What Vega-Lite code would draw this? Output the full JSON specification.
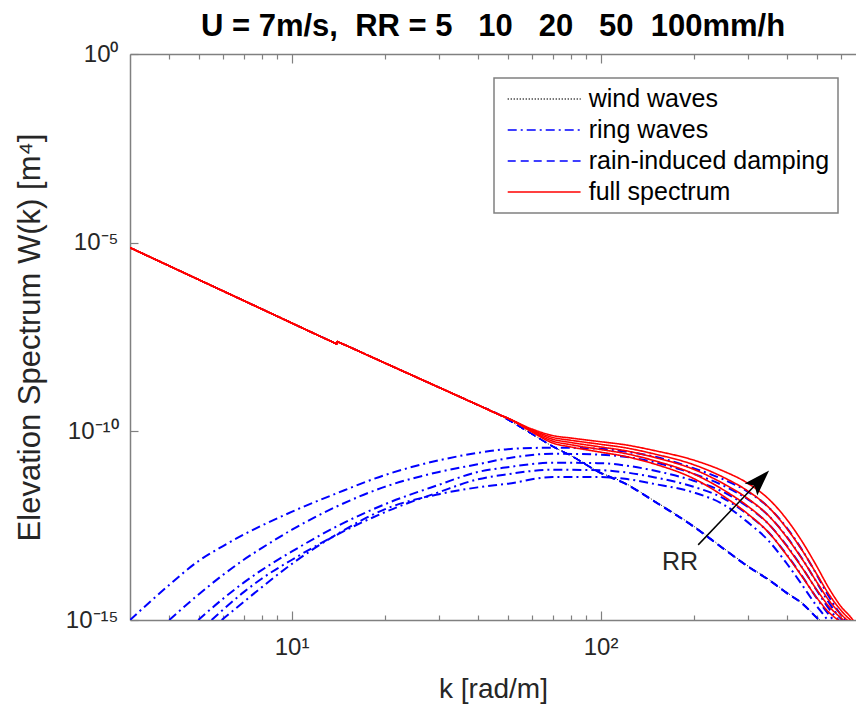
{
  "$schema": "https://vega.github.io/schema/vega-lite/v6.json",
  "autosize": {"type": "none"},
  "padding": {"left": 130, "top": 54, "right": 0, "bottom": 90},
  "width": 726,
  "height": 566,
  "background": "white",
  "title": {
    "text": "U = 7m/s,\u00a0 RR = 5\u00a0\u00a0 10\u00a0\u00a0 20\u00a0\u00a0 50\u00a0 100mm/h",
    "font": "Liberation Sans",
    "fontSize": 31,
    "fontWeight": "bold",
    "color": "#000000",
    "anchor": "middle",
    "offset": -1
  },
  "config": {
    "view": {"stroke": null},
    "axis": {
      "grid": false,
      "domainColor": "#808080",
      "domainWidth": 1.5,
      "tickColor": "#808080",
      "tickWidth": 1.2,
      "labelColor": "#262626",
      "titleColor": "#262626",
      "labelFont": "Liberation Sans",
      "titleFont": "Liberation Sans",
      "titleFontWeight": "normal",
      "labelFontSize": 24,
      "titleFontSize": 28
    },
    "legend": {
      "orient": "none",
      "legendX": 364,
      "legendY": 24,
      "title": null,
      "symbolType": "M-0.6,0H5.4",
      "symbolSize": 590,
      "symbolStrokeWidth": 1.5,
      "labelFont": "Liberation Sans",
      "labelFontSize": 25,
      "labelColor": "#000000",
      "labelOffset": 60.7,
      "labelLimit": 500,
      "rowPadding": 5,
      "padding": 8,
      "strokeColor": "#808080",
      "strokeWidth": 1.5,
      "fillColor": "#ffffff"
    }
  },
  "datasets": {
    "curves": [
      {"s":"w","t":"wind waves","k":3,"W":7.38e-6},
      {"s":"w","t":"wind waves","k":5,"W":1.05e-6},
      {"s":"w","t":"wind waves","k":8,"W":1.75e-7},
      {"s":"w","t":"wind waves","k":12,"W":3.71e-8},
      {"s":"w","t":"wind waves","k":13.9,"W":2.12e-8},
      {"s":"w","t":"wind waves","k":14,"W":2.06e-8},
      {"s":"w","t":"wind waves","k":14.05,"W":2.40e-8},
      {"s":"w","t":"wind waves","k":14.2,"W":2.31e-8},
      {"s":"w","t":"wind waves","k":20,"W":6.52e-9},
      {"s":"w","t":"wind waves","k":30,"W":1.46e-9},
      {"s":"w","t":"wind waves","k":40,"W":5.04e-10},
      {"s":"w","t":"wind waves","k":47,"W":2.77e-10},
      {"s":"w","t":"wind waves","k":50,"W":2.06e-10},
      {"s":"w","t":"wind waves","k":60,"W":8.5e-11},
      {"s":"w","t":"wind waves","k":70,"W":3.98e-11},
      {"s":"w","t":"wind waves","k":80,"W":2.29e-11},
      {"s":"w","t":"wind waves","k":100,"W":8.13e-12},
      {"s":"w","t":"wind waves","k":120,"W":4.27e-12},
      {"s":"w","t":"wind waves","k":150,"W":1.40e-12},
      {"s":"w","t":"wind waves","k":200,"W":3.1e-13},
      {"s":"w","t":"wind waves","k":250,"W":8.0e-14},
      {"s":"w","t":"wind waves","k":300,"W":2.7e-14},
      {"s":"w","t":"wind waves","k":350,"W":1.2e-14},
      {"s":"w","t":"wind waves","k":400,"W":5.4e-15},
      {"s":"w","t":"wind waves","k":450,"W":2.8e-15},
      {"s":"w","t":"wind waves","k":500,"W":1.2e-15},
      {"s":"w","t":"wind waves","k":530,"W":7.9e-16},

      {"s":"d5","t":"rain-induced damping","k":3,"W":7.38e-6},
      {"s":"d5","t":"rain-induced damping","k":5,"W":1.05e-6},
      {"s":"d5","t":"rain-induced damping","k":8,"W":1.75e-7},
      {"s":"d5","t":"rain-induced damping","k":12,"W":3.71e-8},
      {"s":"d5","t":"rain-induced damping","k":13.9,"W":2.12e-8},
      {"s":"d5","t":"rain-induced damping","k":14,"W":2.06e-8},
      {"s":"d5","t":"rain-induced damping","k":14.05,"W":2.40e-8},
      {"s":"d5","t":"rain-induced damping","k":14.2,"W":2.31e-8},
      {"s":"d5","t":"rain-induced damping","k":20,"W":6.52e-9},
      {"s":"d5","t":"rain-induced damping","k":30,"W":1.46e-9},
      {"s":"d5","t":"rain-induced damping","k":40,"W":5.04e-10},
      {"s":"d5","t":"rain-induced damping","k":47,"W":2.77e-10},
      {"s":"d5","t":"rain-induced damping","k":50,"W":2.06e-10},
      {"s":"d5","t":"rain-induced damping","k":60,"W":8.5e-11},
      {"s":"d5","t":"rain-induced damping","k":70,"W":3.98e-11},
      {"s":"d5","t":"rain-induced damping","k":80,"W":2.29e-11},
      {"s":"d5","t":"rain-induced damping","k":100,"W":8.13e-12},
      {"s":"d5","t":"rain-induced damping","k":120,"W":4.27e-12},
      {"s":"d5","t":"rain-induced damping","k":150,"W":1.40e-12},
      {"s":"d5","t":"rain-induced damping","k":200,"W":3.1e-13},
      {"s":"d5","t":"rain-induced damping","k":250,"W":8.0e-14},
      {"s":"d5","t":"rain-induced damping","k":300,"W":2.7e-14},
      {"s":"d5","t":"rain-induced damping","k":350,"W":1.2e-14},
      {"s":"d5","t":"rain-induced damping","k":400,"W":5.4e-15},
      {"s":"d5","t":"rain-induced damping","k":450,"W":2.8e-15},
      {"s":"d5","t":"rain-induced damping","k":500,"W":1.2e-15},
      {"s":"d5","t":"rain-induced damping","k":530,"W":7.9e-16},

      {"s":"d10","t":"rain-induced damping","k":3,"W":7.38e-6},
      {"s":"d10","t":"rain-induced damping","k":5,"W":1.05e-6},
      {"s":"d10","t":"rain-induced damping","k":8,"W":1.75e-7},
      {"s":"d10","t":"rain-induced damping","k":12,"W":3.71e-8},
      {"s":"d10","t":"rain-induced damping","k":13.9,"W":2.12e-8},
      {"s":"d10","t":"rain-induced damping","k":14,"W":2.06e-8},
      {"s":"d10","t":"rain-induced damping","k":14.05,"W":2.40e-8},
      {"s":"d10","t":"rain-induced damping","k":14.2,"W":2.31e-8},
      {"s":"d10","t":"rain-induced damping","k":20,"W":6.52e-9},
      {"s":"d10","t":"rain-induced damping","k":30,"W":1.46e-9},
      {"s":"d10","t":"rain-induced damping","k":40,"W":5.04e-10},
      {"s":"d10","t":"rain-induced damping","k":47,"W":2.77e-10},
      {"s":"d10","t":"rain-induced damping","k":50,"W":2.06e-10},
      {"s":"d10","t":"rain-induced damping","k":60,"W":8.5e-11},
      {"s":"d10","t":"rain-induced damping","k":70,"W":3.98e-11},
      {"s":"d10","t":"rain-induced damping","k":80,"W":2.29e-11},
      {"s":"d10","t":"rain-induced damping","k":100,"W":8.0e-12},
      {"s":"d10","t":"rain-induced damping","k":120,"W":4.2e-12},
      {"s":"d10","t":"rain-induced damping","k":150,"W":1.38e-12},
      {"s":"d10","t":"rain-induced damping","k":200,"W":3.05e-13},
      {"s":"d10","t":"rain-induced damping","k":250,"W":7.88e-14},
      {"s":"d10","t":"rain-induced damping","k":300,"W":2.66e-14},
      {"s":"d10","t":"rain-induced damping","k":350,"W":1.18e-14},
      {"s":"d10","t":"rain-induced damping","k":400,"W":5.32e-15},
      {"s":"d10","t":"rain-induced damping","k":450,"W":2.76e-15},
      {"s":"d10","t":"rain-induced damping","k":500,"W":1.18e-15},
      {"s":"d10","t":"rain-induced damping","k":530,"W":7.8e-16},

      {"s":"d20","t":"rain-induced damping","k":3,"W":7.38e-6},
      {"s":"d20","t":"rain-induced damping","k":5,"W":1.05e-6},
      {"s":"d20","t":"rain-induced damping","k":8,"W":1.75e-7},
      {"s":"d20","t":"rain-induced damping","k":12,"W":3.71e-8},
      {"s":"d20","t":"rain-induced damping","k":13.9,"W":2.12e-8},
      {"s":"d20","t":"rain-induced damping","k":14,"W":2.06e-8},
      {"s":"d20","t":"rain-induced damping","k":14.05,"W":2.40e-8},
      {"s":"d20","t":"rain-induced damping","k":14.2,"W":2.31e-8},
      {"s":"d20","t":"rain-induced damping","k":20,"W":6.52e-9},
      {"s":"d20","t":"rain-induced damping","k":30,"W":1.46e-9},
      {"s":"d20","t":"rain-induced damping","k":40,"W":5.04e-10},
      {"s":"d20","t":"rain-induced damping","k":47,"W":2.77e-10},
      {"s":"d20","t":"rain-induced damping","k":50,"W":2.06e-10},
      {"s":"d20","t":"rain-induced damping","k":60,"W":8.5e-11},
      {"s":"d20","t":"rain-induced damping","k":70,"W":3.98e-11},
      {"s":"d20","t":"rain-induced damping","k":80,"W":2.29e-11},
      {"s":"d20","t":"rain-induced damping","k":100,"W":7.9e-12},
      {"s":"d20","t":"rain-induced damping","k":120,"W":4.14e-12},
      {"s":"d20","t":"rain-induced damping","k":150,"W":1.36e-12},
      {"s":"d20","t":"rain-induced damping","k":200,"W":3.01e-13},
      {"s":"d20","t":"rain-induced damping","k":250,"W":7.76e-14},
      {"s":"d20","t":"rain-induced damping","k":300,"W":2.62e-14},
      {"s":"d20","t":"rain-induced damping","k":350,"W":1.16e-14},
      {"s":"d20","t":"rain-induced damping","k":400,"W":5.24e-15},
      {"s":"d20","t":"rain-induced damping","k":450,"W":2.72e-15},
      {"s":"d20","t":"rain-induced damping","k":500,"W":1.16e-15},
      {"s":"d20","t":"rain-induced damping","k":530,"W":7.7e-16},

      {"s":"d50","t":"rain-induced damping","k":3,"W":7.38e-6},
      {"s":"d50","t":"rain-induced damping","k":5,"W":1.05e-6},
      {"s":"d50","t":"rain-induced damping","k":8,"W":1.75e-7},
      {"s":"d50","t":"rain-induced damping","k":12,"W":3.71e-8},
      {"s":"d50","t":"rain-induced damping","k":13.9,"W":2.12e-8},
      {"s":"d50","t":"rain-induced damping","k":14,"W":2.06e-8},
      {"s":"d50","t":"rain-induced damping","k":14.05,"W":2.40e-8},
      {"s":"d50","t":"rain-induced damping","k":14.2,"W":2.31e-8},
      {"s":"d50","t":"rain-induced damping","k":20,"W":6.52e-9},
      {"s":"d50","t":"rain-induced damping","k":30,"W":1.46e-9},
      {"s":"d50","t":"rain-induced damping","k":40,"W":5.04e-10},
      {"s":"d50","t":"rain-induced damping","k":47,"W":2.77e-10},
      {"s":"d50","t":"rain-induced damping","k":50,"W":2.06e-10},
      {"s":"d50","t":"rain-induced damping","k":60,"W":8.5e-11},
      {"s":"d50","t":"rain-induced damping","k":70,"W":3.98e-11},
      {"s":"d50","t":"rain-induced damping","k":80,"W":2.29e-11},
      {"s":"d50","t":"rain-induced damping","k":100,"W":7.8e-12},
      {"s":"d50","t":"rain-induced damping","k":120,"W":4.08e-12},
      {"s":"d50","t":"rain-induced damping","k":150,"W":1.34e-12},
      {"s":"d50","t":"rain-induced damping","k":200,"W":2.96e-13},
      {"s":"d50","t":"rain-induced damping","k":250,"W":7.64e-14},
      {"s":"d50","t":"rain-induced damping","k":300,"W":2.58e-14},
      {"s":"d50","t":"rain-induced damping","k":350,"W":1.15e-14},
      {"s":"d50","t":"rain-induced damping","k":400,"W":5.16e-15},
      {"s":"d50","t":"rain-induced damping","k":450,"W":2.67e-15},
      {"s":"d50","t":"rain-induced damping","k":500,"W":1.15e-15},
      {"s":"d50","t":"rain-induced damping","k":530,"W":7.6e-16},

      {"s":"d100","t":"rain-induced damping","k":3,"W":7.38e-6},
      {"s":"d100","t":"rain-induced damping","k":5,"W":1.05e-6},
      {"s":"d100","t":"rain-induced damping","k":8,"W":1.75e-7},
      {"s":"d100","t":"rain-induced damping","k":12,"W":3.71e-8},
      {"s":"d100","t":"rain-induced damping","k":13.9,"W":2.12e-8},
      {"s":"d100","t":"rain-induced damping","k":14,"W":2.06e-8},
      {"s":"d100","t":"rain-induced damping","k":14.05,"W":2.40e-8},
      {"s":"d100","t":"rain-induced damping","k":14.2,"W":2.31e-8},
      {"s":"d100","t":"rain-induced damping","k":20,"W":6.52e-9},
      {"s":"d100","t":"rain-induced damping","k":30,"W":1.46e-9},
      {"s":"d100","t":"rain-induced damping","k":40,"W":5.04e-10},
      {"s":"d100","t":"rain-induced damping","k":47,"W":2.77e-10},
      {"s":"d100","t":"rain-induced damping","k":50,"W":2.06e-10},
      {"s":"d100","t":"rain-induced damping","k":60,"W":8.5e-11},
      {"s":"d100","t":"rain-induced damping","k":70,"W":3.98e-11},
      {"s":"d100","t":"rain-induced damping","k":80,"W":2.29e-11},
      {"s":"d100","t":"rain-induced damping","k":100,"W":7.7e-12},
      {"s":"d100","t":"rain-induced damping","k":120,"W":4.02e-12},
      {"s":"d100","t":"rain-induced damping","k":150,"W":1.32e-12},
      {"s":"d100","t":"rain-induced damping","k":200,"W":2.91e-13},
      {"s":"d100","t":"rain-induced damping","k":250,"W":7.52e-14},
      {"s":"d100","t":"rain-induced damping","k":300,"W":2.54e-14},
      {"s":"d100","t":"rain-induced damping","k":350,"W":1.13e-14},
      {"s":"d100","t":"rain-induced damping","k":400,"W":5.08e-15},
      {"s":"d100","t":"rain-induced damping","k":450,"W":2.63e-15},
      {"s":"d100","t":"rain-induced damping","k":500,"W":1.13e-15},
      {"s":"d100","t":"rain-induced damping","k":530,"W":7.5e-16},

      {"s":"g100","t":"ring waves","k":3,"W":1.0e-15},
      {"s":"g100","t":"ring waves","k":3.5,"W":3.15e-15},
      {"s":"g100","t":"ring waves","k":4,"W":8.24e-15},
      {"s":"g100","t":"ring waves","k":5,"W":3.66e-14},
      {"s":"g100","t":"ring waves","k":6,"W":9.10e-14},
      {"s":"g100","t":"ring waves","k":7,"W":1.83e-13},
      {"s":"g100","t":"ring waves","k":8,"W":3.17e-13},
      {"s":"g100","t":"ring waves","k":10,"W":7.33e-13},
      {"s":"g100","t":"ring waves","k":14,"W":2.28e-12},
      {"s":"g100","t":"ring waves","k":20,"W":6.90e-12},
      {"s":"g100","t":"ring waves","k":30,"W":1.71e-11},
      {"s":"g100","t":"ring waves","k":40,"W":2.68e-11},
      {"s":"g100","t":"ring waves","k":50,"W":3.37e-11},
      {"s":"g100","t":"ring waves","k":70,"W":3.69e-11},
      {"s":"g100","t":"ring waves","k":100,"W":3.47e-11},
      {"s":"g100","t":"ring waves","k":120,"W":2.90e-11},
      {"s":"g100","t":"ring waves","k":150,"W":2.12e-11},
      {"s":"g100","t":"ring waves","k":200,"W":1.05e-11},
      {"s":"g100","t":"ring waves","k":250,"W":5.30e-12},
      {"s":"g100","t":"ring waves","k":300,"W":2.50e-12},
      {"s":"g100","t":"ring waves","k":350,"W":9.66e-13},
      {"s":"g100","t":"ring waves","k":400,"W":2.81e-13},
      {"s":"g100","t":"ring waves","k":450,"W":7.02e-14},
      {"s":"g100","t":"ring waves","k":500,"W":1.63e-14},
      {"s":"g100","t":"ring waves","k":550,"W":4.0e-15},
      {"s":"g100","t":"ring waves","k":600,"W":1.37e-15},
      {"s":"g100","t":"ring waves","k":640,"W":7.9e-16},

      {"s":"g50","t":"ring waves","k":4.02,"W":1.0e-15},
      {"s":"g50","t":"ring waves","k":5,"W":4.75e-15},
      {"s":"g50","t":"ring waves","k":6,"W":1.57e-14},
      {"s":"g50","t":"ring waves","k":7,"W":3.94e-14},
      {"s":"g50","t":"ring waves","k":8,"W":8.02e-14},
      {"s":"g50","t":"ring waves","k":10,"W":2.44e-13},
      {"s":"g50","t":"ring waves","k":14,"W":1.02e-12},
      {"s":"g50","t":"ring waves","k":20,"W":3.37e-12},
      {"s":"g50","t":"ring waves","k":30,"W":8.39e-12},
      {"s":"g50","t":"ring waves","k":40,"W":1.34e-11},
      {"s":"g50","t":"ring waves","k":50,"W":1.93e-11},
      {"s":"g50","t":"ring waves","k":70,"W":2.55e-11},
      {"s":"g50","t":"ring waves","k":100,"W":2.40e-11},
      {"s":"g50","t":"ring waves","k":120,"W":2.12e-11},
      {"s":"g50","t":"ring waves","k":150,"W":1.50e-11},
      {"s":"g50","t":"ring waves","k":200,"W":7.5e-12},
      {"s":"g50","t":"ring waves","k":250,"W":3.62e-12},
      {"s":"g50","t":"ring waves","k":300,"W":1.57e-12},
      {"s":"g50","t":"ring waves","k":350,"W":5.80e-13},
      {"s":"g50","t":"ring waves","k":400,"W":1.63e-13},
      {"s":"g50","t":"ring waves","k":450,"W":4.12e-14},
      {"s":"g50","t":"ring waves","k":500,"W":1.01e-14},
      {"s":"g50","t":"ring waves","k":550,"W":2.78e-15},
      {"s":"g50","t":"ring waves","k":600,"W":1.08e-15},
      {"s":"g50","t":"ring waves","k":630,"W":7.9e-16},

      {"s":"g20","t":"ring waves","k":4.99,"W":1.0e-15},
      {"s":"g20","t":"ring waves","k":6,"W":3.66e-15},
      {"s":"g20","t":"ring waves","k":7,"W":9.77e-15},
      {"s":"g20","t":"ring waves","k":8,"W":2.10e-14},
      {"s":"g20","t":"ring waves","k":10,"W":6.47e-14},
      {"s":"g20","t":"ring waves","k":14,"W":3.02e-13},
      {"s":"g20","t":"ring waves","k":20,"W":1.16e-12},
      {"s":"g20","t":"ring waves","k":30,"W":3.84e-12},
      {"s":"g20","t":"ring waves","k":40,"W":8.34e-12},
      {"s":"g20","t":"ring waves","k":50,"W":1.12e-11},
      {"s":"g20","t":"ring waves","k":70,"W":1.47e-11},
      {"s":"g20","t":"ring waves","k":100,"W":1.43e-11},
      {"s":"g20","t":"ring waves","k":120,"W":1.25e-11},
      {"s":"g20","t":"ring waves","k":150,"W":9.0e-12},
      {"s":"g20","t":"ring waves","k":200,"W":4.9e-12},
      {"s":"g20","t":"ring waves","k":250,"W":2.46e-12},
      {"s":"g20","t":"ring waves","k":300,"W":9.84e-13},
      {"s":"g20","t":"ring waves","k":350,"W":3.47e-13},
      {"s":"g20","t":"ring waves","k":400,"W":9.48e-14},
      {"s":"g20","t":"ring waves","k":450,"W":2.41e-14},
      {"s":"g20","t":"ring waves","k":500,"W":6.24e-15},
      {"s":"g20","t":"ring waves","k":550,"W":1.93e-15},
      {"s":"g20","t":"ring waves","k":600,"W":8.5e-16},

      {"s":"g10","t":"ring waves","k":5.51,"W":1.0e-15},
      {"s":"g10","t":"ring waves","k":6,"W":1.87e-15},
      {"s":"g10","t":"ring waves","k":7,"W":5.47e-15},
      {"s":"g10","t":"ring waves","k":8,"W":1.24e-14},
      {"s":"g10","t":"ring waves","k":10,"W":3.89e-14},
      {"s":"g10","t":"ring waves","k":14,"W":1.81e-13},
      {"s":"g10","t":"ring waves","k":20,"W":7.14e-13},
      {"s":"g10","t":"ring waves","k":30,"W":2.45e-12},
      {"s":"g10","t":"ring waves","k":40,"W":5.33e-12},
      {"s":"g10","t":"ring waves","k":50,"W":7.29e-12},
      {"s":"g10","t":"ring waves","k":70,"W":9.62e-12},
      {"s":"g10","t":"ring waves","k":100,"W":9.31e-12},
      {"s":"g10","t":"ring waves","k":120,"W":8.20e-12},
      {"s":"g10","t":"ring waves","k":150,"W":6.0e-12},
      {"s":"g10","t":"ring waves","k":200,"W":3.4e-12},
      {"s":"g10","t":"ring waves","k":250,"W":1.68e-12},
      {"s":"g10","t":"ring waves","k":300,"W":6.18e-13},
      {"s":"g10","t":"ring waves","k":350,"W":2.09e-13},
      {"s":"g10","t":"ring waves","k":400,"W":5.48e-14},
      {"s":"g10","t":"ring waves","k":450,"W":1.42e-14},
      {"s":"g10","t":"ring waves","k":500,"W":3.86e-15},
      {"s":"g10","t":"ring waves","k":550,"W":1.34e-15},
      {"s":"g10","t":"ring waves","k":580,"W":8.0e-16},

      {"s":"g5","t":"ring waves","k":5.94,"W":1.0e-15},
      {"s":"g5","t":"ring waves","k":7,"W":3.02e-15},
      {"s":"g5","t":"ring waves","k":8,"W":7.33e-15},
      {"s":"g5","t":"ring waves","k":10,"W":3.03e-14},
      {"s":"g5","t":"ring waves","k":14,"W":1.85e-13},
      {"s":"g5","t":"ring waves","k":20,"W":8.57e-13},
      {"s":"g5","t":"ring waves","k":30,"W":2.16e-12},
      {"s":"g5","t":"ring waves","k":40,"W":3.27e-12},
      {"s":"g5","t":"ring waves","k":50,"W":4.08e-12},
      {"s":"g5","t":"ring waves","k":70,"W":6.15e-12},
      {"s":"g5","t":"ring waves","k":100,"W":6.15e-12},
      {"s":"g5","t":"ring waves","k":120,"W":5.50e-12},
      {"s":"g5","t":"ring waves","k":150,"W":4.0e-12},
      {"s":"g5","t":"ring waves","k":200,"W":2.4e-12},
      {"s":"g5","t":"ring waves","k":250,"W":1.15e-12},
      {"s":"g5","t":"ring waves","k":300,"W":3.86e-13},
      {"s":"g5","t":"ring waves","k":350,"W":1.25e-13},
      {"s":"g5","t":"ring waves","k":400,"W":3.19e-14},
      {"s":"g5","t":"ring waves","k":450,"W":8.28e-15},
      {"s":"g5","t":"ring waves","k":500,"W":2.38e-15},
      {"s":"g5","t":"ring waves","k":530,"W":1.3e-15},
      {"s":"g5","t":"ring waves","k":560,"W":7.0e-16},

      {"s":"f5","t":"full spectrum","k":3,"W":7.38e-6},
      {"s":"f5","t":"full spectrum","k":5,"W":1.05e-6},
      {"s":"f5","t":"full spectrum","k":8,"W":1.75e-7},
      {"s":"f5","t":"full spectrum","k":12,"W":3.71e-8},
      {"s":"f5","t":"full spectrum","k":13.9,"W":2.12e-8},
      {"s":"f5","t":"full spectrum","k":14,"W":2.06e-8},
      {"s":"f5","t":"full spectrum","k":14.05,"W":2.40e-8},
      {"s":"f5","t":"full spectrum","k":14.2,"W":2.31e-8},
      {"s":"f5","t":"full spectrum","k":20,"W":6.52e-9},
      {"s":"f5","t":"full spectrum","k":30,"W":1.46e-9},
      {"s":"f5","t":"full spectrum","k":40,"W":5.04e-10},
      {"s":"f5","t":"full spectrum","k":47,"W":2.77e-10},
      {"s":"f5","t":"full spectrum","k":50,"W":2.24e-10},
      {"s":"f5","t":"full spectrum","k":60,"W":9.6e-11},
      {"s":"f5","t":"full spectrum","k":70,"W":4.91e-11},
      {"s":"f5","t":"full spectrum","k":80,"W":3.86e-11},
      {"s":"f5","t":"full spectrum","k":100,"W":2.81e-11},
      {"s":"f5","t":"full spectrum","k":120,"W":2.17e-11},
      {"s":"f5","t":"full spectrum","k":150,"W":1.35e-11},
      {"s":"f5","t":"full spectrum","k":200,"W":5.62e-12},
      {"s":"f5","t":"full spectrum","k":250,"W":1.91e-12},
      {"s":"f5","t":"full spectrum","k":300,"W":6.44e-13},
      {"s":"f5","t":"full spectrum","k":350,"W":2.08e-13},
      {"s":"f5","t":"full spectrum","k":400,"W":5.31e-14},
      {"s":"f5","t":"full spectrum","k":450,"W":1.38e-14},
      {"s":"f5","t":"full spectrum","k":500,"W":3.97e-15},
      {"s":"f5","t":"full spectrum","k":550,"W":1.56e-15},
      {"s":"f5","t":"full spectrum","k":600,"W":8.9e-16},

      {"s":"f10","t":"full spectrum","k":3,"W":7.38e-6},
      {"s":"f10","t":"full spectrum","k":5,"W":1.05e-6},
      {"s":"f10","t":"full spectrum","k":8,"W":1.75e-7},
      {"s":"f10","t":"full spectrum","k":12,"W":3.71e-8},
      {"s":"f10","t":"full spectrum","k":13.9,"W":2.12e-8},
      {"s":"f10","t":"full spectrum","k":14,"W":2.06e-8},
      {"s":"f10","t":"full spectrum","k":14.05,"W":2.40e-8},
      {"s":"f10","t":"full spectrum","k":14.2,"W":2.31e-8},
      {"s":"f10","t":"full spectrum","k":20,"W":6.52e-9},
      {"s":"f10","t":"full spectrum","k":30,"W":1.46e-9},
      {"s":"f10","t":"full spectrum","k":40,"W":5.04e-10},
      {"s":"f10","t":"full spectrum","k":47,"W":2.77e-10},
      {"s":"f10","t":"full spectrum","k":50,"W":2.24e-10},
      {"s":"f10","t":"full spectrum","k":60,"W":1.00e-10},
      {"s":"f10","t":"full spectrum","k":70,"W":5.50e-11},
      {"s":"f10","t":"full spectrum","k":80,"W":4.43e-11},
      {"s":"f10","t":"full spectrum","k":100,"W":3.30e-11},
      {"s":"f10","t":"full spectrum","k":120,"W":2.59e-11},
      {"s":"f10","t":"full spectrum","k":150,"W":1.65e-11},
      {"s":"f10","t":"full spectrum","k":200,"W":7.45e-12},
      {"s":"f10","t":"full spectrum","k":250,"W":2.80e-12},
      {"s":"f10","t":"full spectrum","k":300,"W":1.03e-12},
      {"s":"f10","t":"full spectrum","k":350,"W":3.48e-13},
      {"s":"f10","t":"full spectrum","k":400,"W":9.14e-14},
      {"s":"f10","t":"full spectrum","k":450,"W":2.36e-14},
      {"s":"f10","t":"full spectrum","k":500,"W":6.43e-15},
      {"s":"f10","t":"full spectrum","k":550,"W":2.24e-15},
      {"s":"f10","t":"full spectrum","k":600,"W":1.13e-15},
      {"s":"f10","t":"full spectrum","k":650,"W":6.3e-16},

      {"s":"f20","t":"full spectrum","k":3,"W":7.38e-6},
      {"s":"f20","t":"full spectrum","k":5,"W":1.05e-6},
      {"s":"f20","t":"full spectrum","k":8,"W":1.75e-7},
      {"s":"f20","t":"full spectrum","k":12,"W":3.71e-8},
      {"s":"f20","t":"full spectrum","k":13.9,"W":2.12e-8},
      {"s":"f20","t":"full spectrum","k":14,"W":2.06e-8},
      {"s":"f20","t":"full spectrum","k":14.05,"W":2.40e-8},
      {"s":"f20","t":"full spectrum","k":14.2,"W":2.31e-8},
      {"s":"f20","t":"full spectrum","k":20,"W":6.52e-9},
      {"s":"f20","t":"full spectrum","k":30,"W":1.46e-9},
      {"s":"f20","t":"full spectrum","k":40,"W":5.04e-10},
      {"s":"f20","t":"full spectrum","k":47,"W":2.77e-10},
      {"s":"f20","t":"full spectrum","k":50,"W":2.24e-10},
      {"s":"f20","t":"full spectrum","k":60,"W":1.05e-10},
      {"s":"f20","t":"full spectrum","k":70,"W":6.17e-11},
      {"s":"f20","t":"full spectrum","k":80,"W":5.07e-11},
      {"s":"f20","t":"full spectrum","k":100,"W":3.86e-11},
      {"s":"f20","t":"full spectrum","k":120,"W":3.08e-11},
      {"s":"f20","t":"full spectrum","k":150,"W":2.03e-11},
      {"s":"f20","t":"full spectrum","k":200,"W":9.86e-12},
      {"s":"f20","t":"full spectrum","k":250,"W":4.10e-12},
      {"s":"f20","t":"full spectrum","k":300,"W":1.64e-12},
      {"s":"f20","t":"full spectrum","k":350,"W":5.79e-13},
      {"s":"f20","t":"full spectrum","k":400,"W":1.58e-13},
      {"s":"f20","t":"full spectrum","k":450,"W":4.02e-14},
      {"s":"f20","t":"full spectrum","k":500,"W":1.04e-14},
      {"s":"f20","t":"full spectrum","k":550,"W":3.22e-15},
      {"s":"f20","t":"full spectrum","k":600,"W":1.42e-15},
      {"s":"f20","t":"full spectrum","k":650,"W":7.9e-16},

      {"s":"f50","t":"full spectrum","k":3,"W":7.38e-6},
      {"s":"f50","t":"full spectrum","k":5,"W":1.05e-6},
      {"s":"f50","t":"full spectrum","k":8,"W":1.75e-7},
      {"s":"f50","t":"full spectrum","k":12,"W":3.71e-8},
      {"s":"f50","t":"full spectrum","k":13.9,"W":2.12e-8},
      {"s":"f50","t":"full spectrum","k":14,"W":2.06e-8},
      {"s":"f50","t":"full spectrum","k":14.05,"W":2.40e-8},
      {"s":"f50","t":"full spectrum","k":14.2,"W":2.31e-8},
      {"s":"f50","t":"full spectrum","k":20,"W":6.52e-9},
      {"s":"f50","t":"full spectrum","k":30,"W":1.46e-9},
      {"s":"f50","t":"full spectrum","k":40,"W":5.04e-10},
      {"s":"f50","t":"full spectrum","k":47,"W":2.77e-10},
      {"s":"f50","t":"full spectrum","k":50,"W":2.24e-10},
      {"s":"f50","t":"full spectrum","k":60,"W":1.10e-10},
      {"s":"f50","t":"full spectrum","k":70,"W":6.90e-11},
      {"s":"f50","t":"full spectrum","k":80,"W":5.81e-11},
      {"s":"f50","t":"full spectrum","k":100,"W":4.53e-11},
      {"s":"f50","t":"full spectrum","k":120,"W":3.68e-11},
      {"s":"f50","t":"full spectrum","k":150,"W":2.49e-11},
      {"s":"f50","t":"full spectrum","k":200,"W":1.31e-11},
      {"s":"f50","t":"full spectrum","k":250,"W":6.03e-12},
      {"s":"f50","t":"full spectrum","k":300,"W":2.61e-12},
      {"s":"f50","t":"full spectrum","k":350,"W":9.66e-13},
      {"s":"f50","t":"full spectrum","k":400,"W":2.72e-13},
      {"s":"f50","t":"full spectrum","k":450,"W":6.87e-14},
      {"s":"f50","t":"full spectrum","k":500,"W":1.68e-14},
      {"s":"f50","t":"full spectrum","k":550,"W":4.63e-15},
      {"s":"f50","t":"full spectrum","k":600,"W":1.80e-15},
      {"s":"f50","t":"full spectrum","k":650,"W":9.3e-16},

      {"s":"f100","t":"full spectrum","k":3,"W":7.38e-6},
      {"s":"f100","t":"full spectrum","k":5,"W":1.05e-6},
      {"s":"f100","t":"full spectrum","k":8,"W":1.75e-7},
      {"s":"f100","t":"full spectrum","k":12,"W":3.71e-8},
      {"s":"f100","t":"full spectrum","k":13.9,"W":2.12e-8},
      {"s":"f100","t":"full spectrum","k":14,"W":2.06e-8},
      {"s":"f100","t":"full spectrum","k":14.05,"W":2.40e-8},
      {"s":"f100","t":"full spectrum","k":14.2,"W":2.31e-8},
      {"s":"f100","t":"full spectrum","k":20,"W":6.52e-9},
      {"s":"f100","t":"full spectrum","k":30,"W":1.46e-9},
      {"s":"f100","t":"full spectrum","k":40,"W":5.04e-10},
      {"s":"f100","t":"full spectrum","k":47,"W":2.77e-10},
      {"s":"f100","t":"full spectrum","k":50,"W":2.24e-10},
      {"s":"f100","t":"full spectrum","k":60,"W":1.15e-10},
      {"s":"f100","t":"full spectrum","k":70,"W":7.74e-11},
      {"s":"f100","t":"full spectrum","k":80,"W":6.65e-11},
      {"s":"f100","t":"full spectrum","k":100,"W":5.31e-11},
      {"s":"f100","t":"full spectrum","k":120,"W":4.40e-11},
      {"s":"f100","t":"full spectrum","k":150,"W":3.07e-11},
      {"s":"f100","t":"full spectrum","k":200,"W":1.73e-11},
      {"s":"f100","t":"full spectrum","k":250,"W":8.83e-12},
      {"s":"f100","t":"full spectrum","k":300,"W":4.17e-12},
      {"s":"f100","t":"full spectrum","k":350,"W":1.61e-12},
      {"s":"f100","t":"full spectrum","k":400,"W":4.69e-13},
      {"s":"f100","t":"full spectrum","k":450,"W":1.17e-13},
      {"s":"f100","t":"full spectrum","k":500,"W":2.72e-14},
      {"s":"f100","t":"full spectrum","k":550,"W":6.67e-15},
      {"s":"f100","t":"full spectrum","k":600,"W":2.28e-15},
      {"s":"f100","t":"full spectrum","k":650,"W":1.10e-15},
      {"s":"f100","t":"full spectrum","k":680,"W":6.3e-16}
    ],
    "arrow": [
      {"k": 207, "W": 9.8e-14, "k2": 325.8, "W2": 4.81e-12}
    ],
    "label": [
      {"k": 180.7, "W": 3.47e-14, "text": "RR"}
    ]
  },
  "layer": [
    {
      "data": {"name": "curves"},
      "transform": [{"filter": "datum.t == 'wind waves'"}],
      "mark": {"type": "line", "strokeWidth": 1, "clip": true, "interpolate": "monotone"},
      "encoding": {
        "x": {
          "field": "k", "type": "quantitative",
          "scale": {"type": "log", "domain": [3, 671], "nice": false},
          "axis": {
            "orient": "bottom",
            "values": [4,5,6,7,8,9,10,20,30,40,50,60,70,80,90,100,200,300,400,500,600],
            "labelExpr": "datum.value == 10 ? '10¹' : datum.value == 100 ? '10²' : ''",
            "labelOverlap": false,
            "labelFlush": false,
            "tickSize": {"condition": {"test": "datum.value == 10 || datum.value == 100", "value": -9}, "value": -5},
            "labelPadding": 24,
            "title": "k [rad/m]",
            "titlePadding": 12
          }
        },
        "y": {
          "field": "W", "type": "quantitative",
          "scale": {"type": "log", "domain": [1e-15, 1], "nice": false},
          "axis": {
            "orient": "left",
            "values": [1e-15, 1e-10, 1e-5, 1],
            "labelExpr": "datum.value > 0.5 ? '10⁰' : datum.value > 1e-6 ? '10⁻⁵' : datum.value > 1e-11 ? '10⁻¹⁰' : '10⁻¹⁵'",
            "labelOverlap": false,
            "labelFlush": false,
            "tickSize": -8,
            "labelPadding": 20,
            "title": "Elevation Spectrum W(k) [m⁴]",
            "titleFontSize": 31,
            "titlePadding": 19
          }
        },
        "detail": {"field": "s"},
        "color": {
          "field": "t", "type": "nominal",
          "scale": {"domain": ["wind waves", "ring waves", "rain-induced damping", "full spectrum"], "range": ["#000000", "#0000ff", "#0000ff", "#ff0000"]},
          "legend": {"symbolType": "M-0.6,0H5.4", "symbolSize": 590, "labelOffset": 60.7, "labelLimit": 500, "rowPadding": 5, "padding": 8}
        },
        "strokeDash": {
          "field": "t", "type": "nominal",
          "scale": {"domain": ["wind waves", "ring waves", "rain-induced damping", "full spectrum"], "range": [[1, 2], [9, 4, 2, 4], [8, 5], [1, 0]]},
          "legend": {"symbolType": "M-0.6,0H5.4", "symbolSize": 590, "labelOffset": 60.7, "labelLimit": 500, "rowPadding": 5, "padding": 8}
        }
      }
    },
    {
      "data": {"name": "curves"},
      "transform": [{"filter": "datum.t == 'rain-induced damping'"}],
      "mark": {"type": "line", "strokeWidth": 1.3, "clip": true, "interpolate": "monotone"},
      "encoding": {
        "x": {
          "field": "k", "type": "quantitative",
          "axis": {
            "orient": "top",
            "values": [4,5,6,7,8,9,10,20,30,40,50,60,70,80,90,100,200,300,400,500,600],
            "labels": false,
            "tickSize": {"condition": {"test": "datum.value == 10 || datum.value == 100", "value": -9}, "value": -5},
            "title": null
          }
        },
        "y": {"field": "W", "type": "quantitative", "axis": null},
        "detail": {"field": "s"},
        "color": {"field": "t", "type": "nominal"},
        "strokeDash": {"field": "t", "type": "nominal"}
      }
    },
    {
      "data": {"name": "curves"},
      "transform": [{"filter": "datum.t == 'ring waves'"}],
      "mark": {"type": "line", "strokeWidth": 2, "clip": true, "interpolate": "monotone"},
      "encoding": {
        "x": {"field": "k", "type": "quantitative", "axis": null},
        "y": {"field": "W", "type": "quantitative", "axis": null},
        "detail": {"field": "s"},
        "color": {"field": "t", "type": "nominal"},
        "strokeDash": {"field": "t", "type": "nominal"}
      }
    },
    {
      "data": {"name": "curves"},
      "transform": [{"filter": "datum.t == 'full spectrum'"}],
      "mark": {"type": "line", "strokeWidth": 1.6, "clip": true, "interpolate": "monotone"},
      "encoding": {
        "x": {"field": "k", "type": "quantitative", "axis": null},
        "y": {"field": "W", "type": "quantitative", "axis": null},
        "detail": {"field": "s"},
        "color": {"field": "t", "type": "nominal"},
        "strokeDash": {"field": "t", "type": "nominal"}
      }
    },
    {
      "data": {"name": "arrow"},
      "mark": {"type": "rule", "color": "#000000", "strokeWidth": 1.5},
      "encoding": {
        "x": {"field": "k", "type": "quantitative", "axis": null},
        "y": {"field": "W", "type": "quantitative", "axis": null},
        "x2": {"field": "k2"},
        "y2": {"field": "W2"}
      }
    },
    {
      "data": {"name": "arrow"},
      "mark": {"type": "point", "shape": "M0,-1L0.6,0.8L0,0.45L-0.6,0.8Z", "filled": true, "color": "#000000", "opacity": 1, "size": 850, "angle": 43.7},
      "encoding": {
        "x": {"field": "k2", "type": "quantitative", "axis": null},
        "y": {"field": "W2", "type": "quantitative", "axis": null}
      }
    },
    {
      "data": {"name": "label"},
      "mark": {"type": "text", "font": "Liberation Sans", "fontSize": 25, "color": "#262626", "align": "center", "baseline": "middle"},
      "encoding": {
        "x": {"field": "k", "type": "quantitative", "axis": null},
        "y": {"field": "W", "type": "quantitative", "axis": null},
        "text": {"field": "text"}
      }
    }
  ],
  "resolve": {"axis": {"x": "independent", "y": "independent"}}
}
